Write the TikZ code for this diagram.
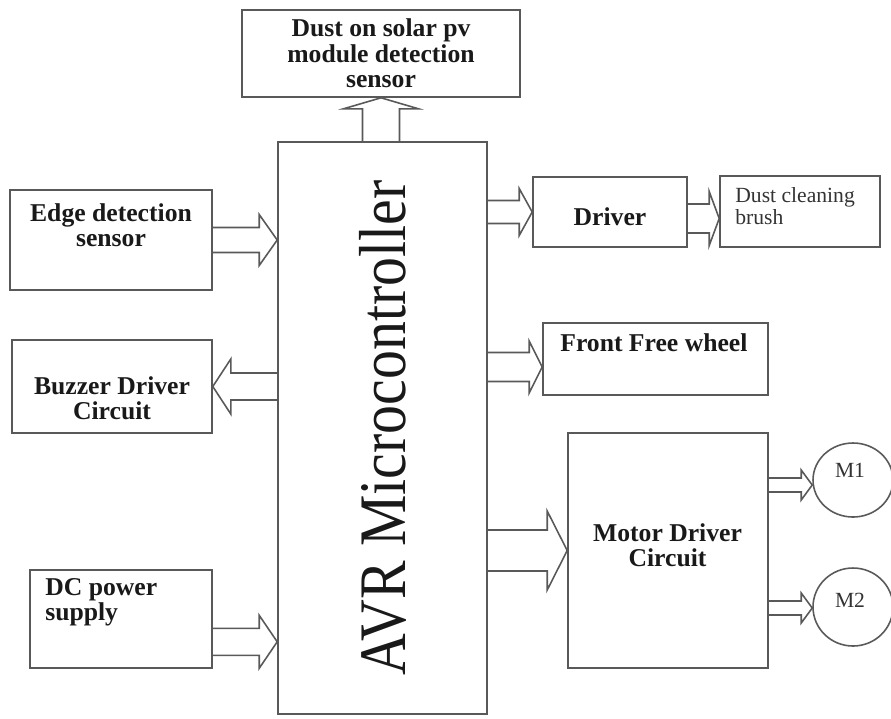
\documentclass[tikz,border=0pt]{standalone}
\usepackage{fontspec}
\setmainfont{Liberation Serif}
\usetikzlibrary{calc,shapes.geometric}

\def\px{0.02cm}
% hollow block arrow: back point, tip, shaft half width, head half width, head length
\newcommand{\hollowarrow}[5]{%
  \draw[conn] ($(#1)+(0,#3)$) -- ($(#2)+({-(#5)},#3)$) -- ($(#2)+({-(#5)},#4)$) -- (#2)
    -- ($(#2)+({-(#5)},{-(#4)})$) -- ($(#2)+({-(#5)},{-(#3)})$) -- ($(#1)+(0,{-(#3)})$);}
\newcommand{\hollowarrowup}[5]{%
  \draw[conn] ($(#1)+(#3,0)$) -- ($(#2)+(#3,#5)$) -- ($(#2)+(#4,#5)$) -- (#2)
    -- ($(#2)+({-(#4)},#5)$) -- ($(#2)+({-(#3)},#5)$) -- ($(#1)+({-(#3)},0)$);}

\begin{document}
\begin{tikzpicture}[x=0.02cm,y=-0.02cm,
  box/.style={draw=black!65,line width=0.9pt,inner sep=0pt},
  conn/.style={draw=black!65,line width=0.9pt},
  bold/.style={font=\fontsize{14.6}{14.5}\selectfont\bfseries,text=black!90,align=center,inner sep=0pt},
  plain/.style={font=\fontsize{12.3}{12.8}\selectfont,text=black!80,align=left,inner sep=0pt}]

  \useasboundingbox (0,0) rectangle (891,718);

  % blocks
  \node[box,minimum width=209*\px,minimum height=572*\px] (avr) at (382.5,428) {};
  \node[rotate=90,yscale=1.15,inner sep=0pt,text=black!90,
    font=\fontsize{32.9}{34}\selectfont] (avrtxt) at (avr.center) {AVR Microcontroller};

  \node[box,bold,minimum width=278*\px,minimum height=87*\px] (sensor) at (381,53.5)
    {Dust on solar pv\\module detection\\sensor};

  \node[box,minimum width=202*\px,minimum height=100*\px] (edge) at (111,240) {};
  \node[bold] (edgetxt) at (111,225) {Edge detection\\sensor};

  \node[box,minimum width=200*\px,minimum height=93*\px] (buzzer) at (112,386.5) {};
  \node[bold] (buzzertxt) at (112,398) {Buzzer Driver\\Circuit};

  \node[box,minimum width=182*\px,minimum height=98*\px] (dc) at (121,619) {};
  \node[bold,align=left,anchor=west] (dctxt) at (45,602.5) {DC power\\supply};

  \node[box,minimum width=154*\px,minimum height=70*\px] (driver) at (610,212) {};
  \node[bold] (drivertxt) at (610,217) {Driver};

  \node[box,minimum width=160*\px,minimum height=71*\px] (brush) at (800,211.5) {};
  \node[plain,anchor=west] (brushtxt) at (735,206) {Dust cleaning\\brush};

  \node[box,minimum width=225*\px,minimum height=72*\px] (wheel) at (655.5,359) {};
  \node[bold,anchor=west] (wheeltxt) at (560,343) {Front Free wheel};

  \node[box,minimum width=200*\px,minimum height=235*\px] (motor) at (668,550.5) {};
  \node[bold] (motortxt) at (667.5,545) {Motor Driver\\Circuit};

  \node[box,ellipse,minimum width=80*\px,minimum height=74*\px] (m1) at (853,480) {};
  \node[plain] (m1txt) at (850,470) {M1};
  \node[box,ellipse,minimum width=80*\px,minimum height=78*\px] (m2) at (853,607) {};
  \node[plain] (m2txt) at (850,600) {M2};

  % arrow ends
  \coordinate (edgetip) at (edge.east -| avr.west);
  \coordinate (buzzback) at (buzzer.east -| avr.west);
  \coordinate (dcout) at ($(dc.south east)+(0,-27)$);
  \coordinate (dctip) at (dcout -| avr.west);
  \coordinate (drvback) at (driver.west -| avr.east);
  \coordinate (brushtip) at ($(brush.west)+(0,7)$);
  \coordinate (brushback) at (brushtip -| driver.east);
  \coordinate (wheeltip) at ($(wheel.west)+(0,8)$);
  \coordinate (wheelback) at (wheeltip -| avr.east);
  \coordinate (motorback) at (motor.west -| avr.east);
  \coordinate (m1tip) at ($(m1.west)+(0,5)$);
  \coordinate (m1back) at (m1tip -| motor.east);
  \coordinate (m2tip) at ($(m2.west)+(0,1)$);
  \coordinate (m2back) at (m2tip -| motor.east);
  \coordinate (sensback) at (sensor.south |- avr.north);

  % hollow arrows
  \hollowarrowup{sensback}{sensor.south}{18.5}{37.5}{11}
  \hollowarrow{edge.east}{edgetip}{12.5}{25.5}{18}
  \hollowarrow{buzzback}{buzzer.east}{13.5}{27.5}{-18}
  \hollowarrow{dcout}{dctip}{13.5}{26.5}{18}
  \hollowarrow{drvback}{driver.west}{11.5}{23.5}{13}
  \hollowarrow{brushback}{brushtip}{14.5}{27}{10}
  \hollowarrow{wheelback}{wheeltip}{14.5}{26}{13}
  \hollowarrow{motorback}{motor.west}{20.5}{39.5}{20}
  \hollowarrow{m1back}{m1tip}{7}{15}{11}
  \hollowarrow{m2back}{m2tip}{7}{15}{11}
\end{tikzpicture}
\end{document}
